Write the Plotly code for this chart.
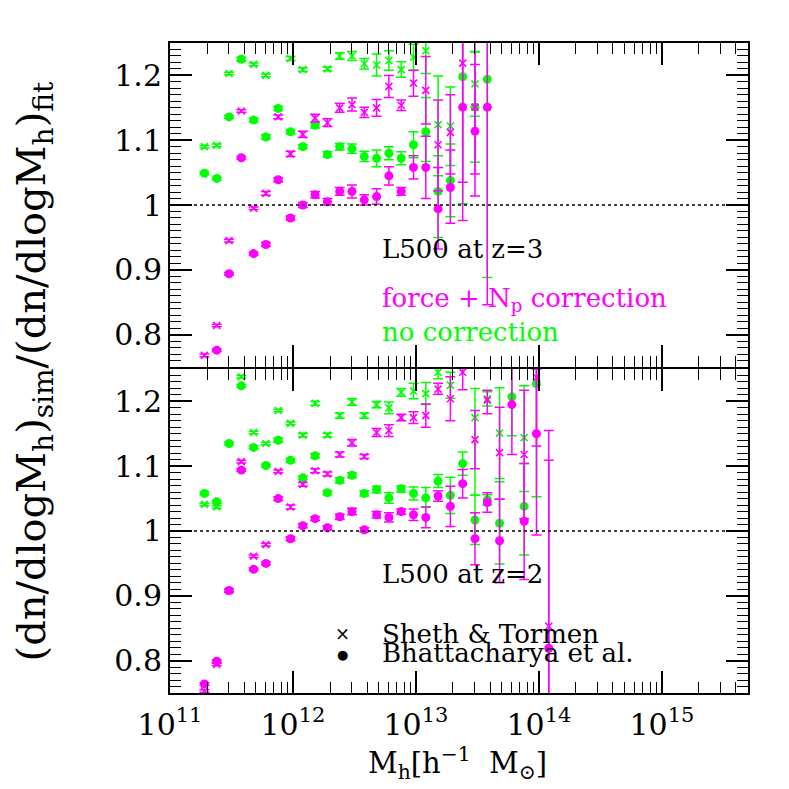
"""
plot.py - mass function ratio, L500 at z=3 (top) and z=2 (bottom)
"""

import plotly.graph_objects as go
from plotly.subplots import make_subplots

# Colour scheme
COLORS = {
    'corr': '#FF00FF',     # force + Np correction
    'raw': '#00FF00',      # no correction
    'text': '#000000',
}
FONT = 'DejaVu Serif'

# log10 of bin centres
LOGM_TOP = [11.28, 11.38, 11.48, 11.58, 11.68, 11.78, 11.88, 11.98, 12.08, 12.18,
            12.28, 12.38, 12.48, 12.58, 12.68, 12.78, 12.88, 12.98, 13.08, 13.18,
            13.28, 13.38, 13.48, 13.58]
LOGM_BOT = LOGM_TOP + [13.68, 13.78, 13.88, 13.98, 14.08]

# ---- z=3 panel ----
TOP_ST_RAW = [1.090, 1.092, 1.203, None, 1.217, 1.200, None, 1.226, 1.209, None,
              1.210, 1.230, 1.230, 1.218, 1.216, 1.223, 1.209, 1.228, 1.238, 1.124,
              1.122, None, 1.187, None]
TOP_ST_RAW_UP = [0.002, 0.002, 0.002, 0, 0.002, 0.002, 0, 0.003, 0.003, 0,
                 0.003, 0.005, 0.007, 0.008, 0.017, 0.015, 0.012, 0.020, 0.035, 0.075,
                 0.060, 0, 0.050, 0]
TOP_ST_RAW_DN = [0.002, 0.002, 0.002, 0, 0.002, 0.002, 0, 0.003, 0.003, 0,
                 0.003, 0.005, 0.007, 0.008, 0.017, 0.015, 0.012, 0.020, 0.035, 0.079,
                 0.061, 0, 0.050, 0]

TOP_BH_RAW = [1.049, 1.041, 1.136, 1.225, 1.131, 1.105, 1.149, 1.113, 1.090, 1.123,
              1.078, 1.090, 1.087, 1.075, 1.072, 1.080, 1.072, 1.093, 1.113, 1.021,
              1.038, 1.198, 1.151, 1.194]
TOP_BH_RAW_UP = [0.002, 0.002, 0.002, 0.003, 0.003, 0.003, 0.003, 0.003, 0.003, 0.004,
                 0.004, 0.005, 0.007, 0.008, 0.013, 0.010, 0.010, 0.020, 0.053, 0.055,
                 0.056, 0.100, 0.085, 0.100]
TOP_BH_RAW_DN = [0.002, 0.002, 0.002, 0.003, 0.003, 0.003, 0.003, 0.003, 0.003, 0.004,
                 0.004, 0.005, 0.007, 0.008, 0.013, 0.010, 0.010, 0.020, 0.046, 0.071,
                 0.056, 0.196, 0.085, 0.306]

TOP_ST_COR = [0.768, 0.814, 0.945, 1.145, 0.995, 1.018, 1.136, 1.079, 1.109, 1.134,
              1.127, 1.150, 1.155, 1.143, 1.150, 1.183, 1.154, 1.188, 1.177, 1.093,
              1.112, 1.219, 1.151, None]
TOP_ST_COR_UP = [0.002, 0.002, 0.002, 0.002, 0.002, 0.003, 0.003, 0.004, 0.005, 0.006,
                 0.006, 0.007, 0.010, 0.008, 0.013, 0.017, 0.008, 0.020, 0.052, 0.069,
                 0.058, 0.050, 0.066, 0]
TOP_ST_COR_DN = [0.002, 0.002, 0.002, 0.002, 0.002, 0.003, 0.003, 0.004, 0.005, 0.006,
                 0.006, 0.007, 0.010, 0.008, 0.013, 0.017, 0.008, 0.020, 0.052, 0.071,
                 0.064, 0.184, 0.103, 0]

TOP_BH_COR = [None, 0.776, 0.894, 1.073, 0.925, 0.939, 1.039, 0.980, 1.000, 1.016,
              1.005, 1.021, 1.021, 1.008, 1.013, 1.045, 1.021, 1.058, 1.058, 0.994,
              1.027, 1.151, 1.114, 1.151]
TOP_BH_COR_UP = [0, 0.002, 0.002, 0.002, 0.002, 0.003, 0.003, 0.003, 0.004, 0.005,
                 0.005, 0.006, 0.010, 0.008, 0.012, 0.014, 0.006, 0.018, 0.048, 0.064,
                 0.058, 0.150, 0.150, 0.150]
TOP_BH_COR_DN = [0, 0.002, 0.002, 0.002, 0.002, 0.003, 0.003, 0.003, 0.004, 0.005,
                 0.005, 0.006, 0.010, 0.008, 0.012, 0.014, 0.006, 0.018, 0.048, 0.062,
                 0.055, 0.175, 0.100, 0.305]

# ---- z=2 panel ----
BOT_ST_RAW = [1.041, 1.037, None, 1.238, 1.152, 1.135, 1.186, 1.166, 1.148, 1.197,
              1.148, 1.178, 1.199, 1.178, 1.195, 1.190, 1.214, 1.216, 1.212, 1.245,
              1.225, None, 1.175, 1.204, 1.151, None, 1.144, None, None]
BOT_ST_RAW_UP = [0.002, 0.002, 0, 0.002, 0.002, 0.002, 0.002, 0.002, 0.003, 0.003,
                 0.003, 0.004, 0.005, 0.004, 0.005, 0.009, 0.006, 0.012, 0.017, 0.010,
                 0.020, 0, 0.045, 0.011, 0.070, 0, 0.080, 0, 0]
BOT_ST_RAW_DN = [0.002, 0.002, 0, 0.002, 0.002, 0.002, 0.002, 0.002, 0.003, 0.003,
                 0.003, 0.004, 0.005, 0.004, 0.005, 0.009, 0.006, 0.012, 0.017, 0.010,
                 0.020, 0, 0.120, 0.011, 0.070, 0, 0.083, 0, 0]

BOT_BH_RAW = [1.058, 1.045, 1.135, 1.224, 1.129, 1.101, 1.140, 1.109, 1.082, 1.116,
              1.059, 1.078, 1.086, 1.058, 1.064, 1.051, 1.065, 1.058, 1.051, 1.077,
              1.055, 1.104, 1.017, 1.048, 1.012, 1.207, 1.038, 1.227, None]
BOT_BH_RAW_UP = [0.002, 0.002, 0.002, 0.002, 0.002, 0.002, 0.003, 0.003, 0.003, 0.003,
                 0.003, 0.004, 0.004, 0.004, 0.005, 0.008, 0.005, 0.010, 0.016, 0.010,
                 0.028, 0.018, 0.038, 0.008, 0.064, 0.060, 0.066, 0.030, 0]
BOT_BH_RAW_DN = [0.002, 0.002, 0.002, 0.002, 0.002, 0.002, 0.003, 0.003, 0.003, 0.003,
                 0.003, 0.004, 0.004, 0.004, 0.005, 0.008, 0.005, 0.010, 0.014, 0.010,
                 0.028, 0.018, 0.038, 0.008, 0.063, 0.060, 0.075, 0.174, 0]

BOT_ST_COR = [0.753, 0.794, 0.908, 1.107, 0.961, 0.979, 1.092, 1.037, 1.072, 1.093,
              1.088, 1.118, 1.136, 1.115, 1.152, 1.155, 1.175, 1.175, 1.178, 1.219,
              1.204, 1.245, 1.141, 1.202, 1.121, None, 1.118, 1.237, 0.853]
BOT_ST_COR_UP = [0.002, 0.002, 0.002, 0.002, 0.002, 0.002, 0.002, 0.003, 0.003, 0.003,
                 0.003, 0.004, 0.005, 0.003, 0.006, 0.009, 0.005, 0.009, 0.018, 0.009,
                 0.034, 0.027, 0.045, 0.015, 0.070, 0, 0.099, 0.020, 0.256]
BOT_ST_COR_DN = [0.002, 0.002, 0.002, 0.002, 0.002, 0.002, 0.002, 0.003, 0.003, 0.003,
                 0.003, 0.004, 0.005, 0.003, 0.006, 0.009, 0.005, 0.009, 0.018, 0.008,
                 0.034, 0.027, 0.045, 0.021, 0.072, 0, 0.099, 0.106, 0.200]

BOT_BH_COR = [0.764, 0.799, 0.908, 1.094, 0.941, 0.950, 1.050, 0.988, 1.008, 1.019,
              1.005, 1.022, 1.030, 1.002, 1.025, 1.021, 1.030, 1.025, 1.021, 1.054,
              1.038, 1.073, 0.988, 1.044, 0.985, 1.195, 1.015, 1.150, 0.819]
BOT_BH_COR_UP = [0.002, 0.002, 0.002, 0.002, 0.002, 0.002, 0.003, 0.003, 0.003, 0.003,
                 0.003, 0.004, 0.005, 0.003, 0.005, 0.007, 0.004, 0.009, 0.016, 0.008,
                 0.031, 0.022, 0.040, 0.015, 0.064, 0.100, 0.089, 0.100, 0.336]
BOT_BH_COR_DN = [0.002, 0.002, 0.002, 0.002, 0.002, 0.002, 0.003, 0.003, 0.003, 0.003,
                 0.003, 0.004, 0.005, 0.003, 0.005, 0.007, 0.004, 0.009, 0.016, 0.008,
                 0.031, 0.022, 0.040, 0.015, 0.065, 0.077, 0.090, 0.156, 0.200]

Y_TICKS = [0.8, 0.9, 1.0, 1.1, 1.2]
Y_TICKTEXT = ['0.8', '0.9', '1', '1.1', '1.2']
X_TICK_EXP = [11, 12, 13, 14, 15]


def series(logm, vals, up, dn, color, symbol):
    x = [10 ** v for v in logm]
    if symbol == 'circle':
        marker = dict(symbol='circle', size=9, color=color, line=dict(width=0))
    else:
        marker = dict(symbol='x-thin', size=7, color=color, line=dict(width=1.6, color=color))
    return go.Scatter(
        x=x, y=vals, mode='markers', marker=marker, showlegend=False,
        error_y=dict(type='data', symmetric=False, array=up, arrayminus=dn,
                     color=color, thickness=1.5, width=5),
        cliponaxis=True,
    )


# small gap so the two outward-drawn axis lines merge into one
fig = make_subplots(rows=2, cols=1, shared_xaxes=True, vertical_spacing=0.003)

panels = [
    (1, LOGM_TOP, [(TOP_ST_RAW, TOP_ST_RAW_UP, TOP_ST_RAW_DN, 'raw', 'x'),
                   (TOP_BH_RAW, TOP_BH_RAW_UP, TOP_BH_RAW_DN, 'raw', 'circle'),
                   (TOP_ST_COR, TOP_ST_COR_UP, TOP_ST_COR_DN, 'corr', 'x'),
                   (TOP_BH_COR, TOP_BH_COR_UP, TOP_BH_COR_DN, 'corr', 'circle')]),
    (2, LOGM_BOT, [(BOT_ST_RAW, BOT_ST_RAW_UP, BOT_ST_RAW_DN, 'raw', 'x'),
                   (BOT_BH_RAW, BOT_BH_RAW_UP, BOT_BH_RAW_DN, 'raw', 'circle'),
                   (BOT_ST_COR, BOT_ST_COR_UP, BOT_ST_COR_DN, 'corr', 'x'),
                   (BOT_BH_COR, BOT_BH_COR_UP, BOT_BH_COR_DN, 'corr', 'circle')]),
]

for row, logm, sets in panels:
    for vals, up, dn, key, sym in sets:
        fig.add_trace(series(logm, vals, up, dn, COLORS[key], sym), row=row, col=1)
    fig.add_hline(y=1, line_dash='dot', line_color='black', line_width=1.5, row=row, col=1)

axis_common = dict(
    showline=True, linecolor='black', linewidth=2, mirror='allticks',
    ticks='inside', ticklen=22, tickwidth=1.5, tickcolor='black',
    showgrid=False, zeroline=False,
    tickfont=dict(family=FONT, size=30, color='black'),
)

for row in (1, 2):
    fig.update_yaxes(
        range=[0.75, 1.25], tickvals=Y_TICKS, ticktext=Y_TICKTEXT,
        minor=dict(ticks='inside', ticklen=11, tickwidth=1.2, dtick=0.01, tickcolor='black'),
        row=row, col=1, **axis_common
    )
    fig.update_xaxes(
        type='log', range=[11, 15.7],
        tickvals=[10 ** e for e in X_TICK_EXP],
        ticktext=['10<sup>%d</sup>' % e for e in X_TICK_EXP],
        minor=dict(ticks='inside', ticklen=11, tickwidth=1.2, dtick='D1', tickcolor='black'),
        showticklabels=(row == 2), ticklabelstandoff=4,
        row=row, col=1, **axis_common
    )

txt = dict(family=FONT, size=26)
annotations = [
    dict(text='L500 at z=3', x=0.363, y=0.683, font=dict(color='black', **txt)),
    dict(text='force + N<sub>p</sub> correction', x=0.363, y=0.605,
         font=dict(color=COLORS['corr'], **txt)),
    dict(text='no correction', x=0.363, y=0.556, font=dict(color=COLORS['raw'], **txt)),
    dict(text='L500 at z=2', x=0.363, y=0.183, font=dict(color='black', **txt)),
    dict(text='Sheth &amp; Tormen', x=0.363, y=0.091, font=dict(color='black', **txt)),
    dict(text='Bhattacharya et al.', x=0.363, y=0.062, font=dict(color='black', **txt)),
]
for a in annotations:
    fig.add_annotation(xref='paper', yref='paper', xanchor='left', yanchor='middle',
                       showarrow=False, **a)

# legend symbols
fig.add_annotation(text='×', x=0.2976, y=0.0915, xref='paper', yref='paper',
                   xanchor='center', yanchor='middle',
                   showarrow=False, font=dict(family=FONT, size=18, color='black'))
fig.add_annotation(text='●', x=0.2976, y=0.0595, xref='paper', yref='paper',
                   xanchor='center', yanchor='middle',
                   showarrow=False, font=dict(family=FONT, size=13, color='black'))

# axis titles
fig.add_annotation(
    text='(dn/dlogM<sub>h</sub>)<sub>sim</sub>/(dn/dlogM<sub>h</sub>)<sub>fit</sub>',
    x=-0.235, y=0.495, xref='paper', yref='paper', textangle=-90,
    xanchor='center', yanchor='middle',
    showarrow=False, font=dict(family=FONT, size=40, color='black'))
fig.add_annotation(
    text='M<sub>h</sub>[h<sup>−1</sup>  M<sub>⊙</sub>]',
    x=0.498, y=-0.107, xref='paper', yref='paper',
    xanchor='center', yanchor='middle',
    showarrow=False, font=dict(family=FONT, size=29, color='black'))

# page body adds an 8px offset, so margins are shifted to compensate
fig.update_layout(
    width=789, height=789,
    margin=dict(l=162, r=49, t=35, b=104),
    plot_bgcolor='white', paper_bgcolor='white',
    font=dict(family=FONT, color='black'),
    showlegend=False,
)

fig.write_html("out.html")
